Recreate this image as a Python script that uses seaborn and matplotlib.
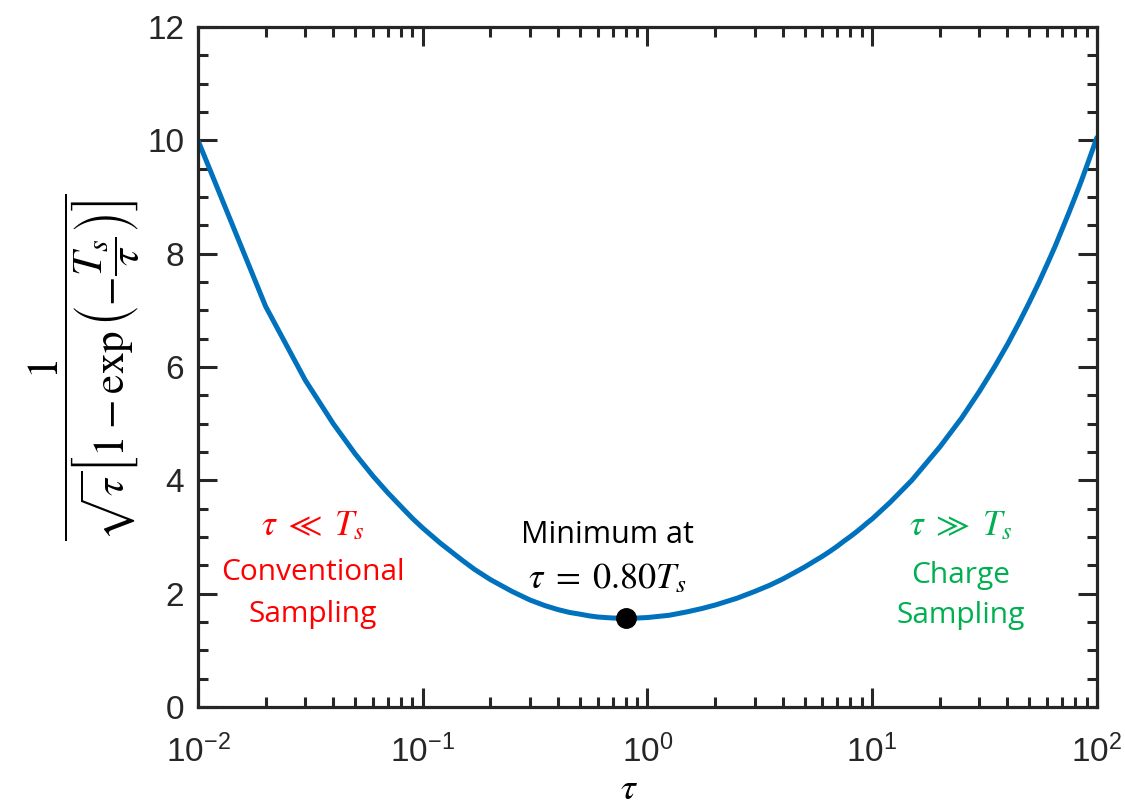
import numpy as np
import pandas as pd
import matplotlib
matplotlib.use("Agg")
import matplotlib.pyplot as plt
import seaborn as sns
from matplotlib.ticker import LogLocator, MultipleLocator

# ---- data ----
tau = [0.01, 0.02, 0.03, 0.04, 0.05, 0.06, 0.07, 0.08, 0.09,
       0.1, 0.12, 0.15, 0.17, 0.2, 0.25, 0.3, 0.35, 0.4, 0.45, 0.5,
       0.55, 0.6, 0.65, 0.7, 0.75, 0.8, 0.85, 0.9, 0.95,
       1, 1.25, 1.5, 1.75, 2, 2.5, 3, 3.5, 4, 4.5, 5, 5.5, 6, 6.5,
       7, 7.5, 8, 8.5, 9, 9.5,
       10, 12, 15, 20, 25, 30, 35, 40, 45, 50, 55, 60, 65,
       70, 75, 80, 85, 90, 95, 100]
value = [10.00, 7.07, 5.77, 5.00, 4.47, 4.08, 3.78, 3.54, 3.33,
         3.16, 2.89, 2.59, 2.43, 2.25, 2.04, 1.89, 1.79, 1.72, 1.67, 1.64,
         1.61, 1.59, 1.58, 1.572, 1.568, 1.567, 1.568, 1.571, 1.576,
         1.58, 1.62, 1.68, 1.74, 1.80, 1.92, 2.04, 2.15, 2.26, 2.37, 2.47, 2.57, 2.66, 2.75,
         2.84, 2.93, 3.01, 3.09, 3.17, 3.25,
         3.32, 3.61, 4.00, 4.59, 5.10, 5.57, 6.00, 6.40, 6.78, 7.14, 7.48, 7.81, 8.12,
         8.43, 8.72, 9.00, 9.27, 9.54, 9.80, 10.05]
min_tau = [0.80]
min_val = [1.567]
x_ticks = [0.01, 0.1, 1, 10, 100]
x_tick_labels = [r'$\mathregular{10^{-2}}$', r'$\mathregular{10^{-1}}$',
                 r'$\mathregular{10^{0}}$', r'$\mathregular{10^{1}}$',
                 r'$\mathregular{10^{2}}$']
y_ticks = [0, 2, 4, 6, 8, 10, 12]

df = pd.DataFrame({"tau": tau, "value": value})

sns.set_theme(style="ticks")
tickfont = ['Liberation Sans Narrow', 'Liberation Sans', 'DejaVu Sans']
plt.rcParams['font.family'] = tickfont
plt.rcParams['mathtext.fontset'] = 'stix'

AX = '#262626'
fig = plt.figure(figsize=(11.25, 8.09), dpi=100)
ax = fig.add_axes([0.176, 0.126, 0.799, 0.8405])

sns.lineplot(data=df, x="tau", y="value", ax=ax, color='#0072BD', linewidth=3.6)
ax.plot(min_tau, min_val, 'o', color='black', markersize=14, zorder=5)

ax.set_xscale('log')
ax.set_xlim(0.01, 100)
ax.set_ylim(0, 12)
ax.set_xticks(x_ticks)
ax.set_xticklabels(x_tick_labels)
ax.xaxis.set_minor_locator(LogLocator(base=10, subs=np.arange(2, 10)))
ax.xaxis.set_minor_formatter(plt.NullFormatter())
ax.set_yticks(y_ticks)
ax.yaxis.set_minor_locator(MultipleLocator(0.5))

for s in ax.spines.values():
    s.set_visible(True)
    s.set_linewidth(2.3)
    s.set_color(AX)

ax.tick_params(which='both', direction='in', top=True, right=True, color=AX,
               width=2.2, labelcolor=AX, labelsize=24)
ax.tick_params(which='major', length=14)
ax.tick_params(which='minor', length=7)
ax.tick_params(axis='y', which='major', pad=10)
ax.tick_params(axis='x', which='major', pad=20)
for lab in ax.get_xticklabels() + ax.get_yticklabels():
    lab.set_fontfamily(tickfont)

ax.set_xlabel(r'$\tau$', fontsize=27, color='black')
ax.xaxis.set_label_coords(0.48, -0.094)
ax.set_ylabel(r'$\dfrac{1}{\sqrt{\tau}\left[1-\exp\left(-\dfrac{T_s}{\tau}\right)\right]}$',
              fontsize=31, color='black')
ax.yaxis.set_label_coords(-0.062, 0.5)

tf = ['Open Sans', 'DejaVu Sans']
red = '#FF0000'
green = '#00B050'
tr = ax.transData
# red group
ax.text(0.0325, 3.03, r'$\tau\ \ll\ T_s$', transform=tr, ha='center', va='baseline',
        color=red, fontsize=25)
ax.text(0.0325, 2.24, 'Conventional', transform=tr, ha='center', va='baseline',
        color=red, fontsize=21.5, family=tf)
ax.text(0.0325, 1.50, 'Sampling', transform=tr, ha='center', va='baseline',
        color=red, fontsize=21.5, family=tf)
# green group
ax.text(24.8, 3.03, r'$\tau\ \gg\ T_s$', transform=tr, ha='center', va='baseline',
        color=green, fontsize=25)
ax.text(24.8, 2.19, 'Charge', transform=tr, ha='center', va='baseline',
        color=green, fontsize=21.5, family=tf)
ax.text(24.8, 1.48, 'Sampling', transform=tr, ha='center', va='baseline',
        color=green, fontsize=21.5, family=tf)
# minimum annotation
ax.text(0.661, 2.89, 'Minimum at', transform=tr, ha='center', va='baseline',
        color='black', fontsize=22, family=tf)
ax.text(0.661, 2.10, r'$\tau\;=\;0.80T_s$', transform=tr, ha='center', va='baseline',
        color='black', fontsize=26)

fig.savefig('out.png', dpi=100)
